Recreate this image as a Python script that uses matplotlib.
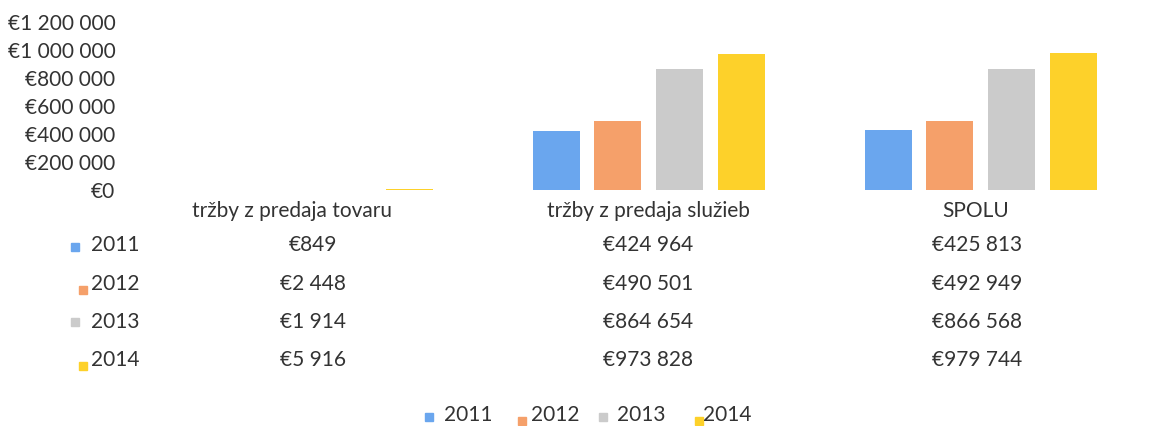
import matplotlib.pyplot as plt
import numpy as np

plt.rcParams['font.family'] = ['Lato', 'DejaVu Sans']

# --- DATA ---
categories = ['tržby z predaja tovaru', 'tržby z predaja služieb', 'SPOLU']
years = ['2011', '2012', '2013', '2014']
values = {
    '2011': [849, 424964, 425813],
    '2012': [2448, 490501, 492949],
    '2013': [1914, 864654, 866568],
    '2014': [5916, 973828, 979744],
}
yticks = [0, 200000, 400000, 600000, 800000, 1000000, 1200000]
colors = ['#6aa6ee', '#f5a06a', '#cbcbcb', '#fdd12a']
text_color = '#333333'
fs = 15

W, H = 1158, 426


def eur(v):
    return '€' + f'{v:,}'.replace(',', ' ')


def fx(px):
    return px / W


def fy(py):
    return 1 - py / H


fig = plt.figure(figsize=(W / 100, H / 100), dpi=100)
ax = fig.add_axes([fx(125), fy(190), fx(1150) - fx(125), fy(22) - fy(190)])

x = np.arange(len(categories))
step = 0.186
width = 0.142
for i, yr in enumerate(years):
    ax.bar(x + (i - 1.5) * step, values[yr], width, color=colors[i], zorder=2)

ax.set_xlim(-0.578, 2.51)
ax.set_ylim(0, 1200000)
ax.set_yticks(yticks)
ax.set_yticklabels([eur(v) for v in yticks], fontsize=fs, color=text_color)
ax.tick_params(axis='y', length=0, pad=7)
ax.set_xticks([])
for s in ax.spines.values():
    s.set_visible(False)

# --- data table below the plot ---
head_x = [292, 648, 976]
col_x = [313, 648, 977]
row_y = [245, 284, 322, 360]
for cx, cat in zip(head_x, categories):
    fig.text(fx(cx), fy(211), cat, ha='center', va='center', fontsize=fs, color=text_color)
marker_x = [71, 79, 71, 79]
marker_y = [247, 290, 322, 366]
for i, yr in enumerate(years):
    fig.text(fx(91), fy(row_y[i]), yr, ha='left', va='center', fontsize=fs, color=text_color)
    fig.patches.append(plt.Rectangle((fx(marker_x[i]), fy(marker_y[i] + 4)), fx(8), 8 / H,
                                     transform=fig.transFigure, color=colors[i]))
    for cx, v in zip(col_x, values[yr]):
        fig.text(fx(cx), fy(row_y[i]), eur(v), ha='center', va='center', fontsize=fs, color=text_color)

# --- legend at bottom ---
leg_marker_x = [425, 518, 599, 695]
leg_marker_y = [417, 421, 417, 421]
leg_text_x = [444, 531, 617, 703]
for i, yr in enumerate(years):
    fig.patches.append(plt.Rectangle((fx(leg_marker_x[i]), fy(leg_marker_y[i] + 4)), fx(8), 8 / H,
                                     transform=fig.transFigure, color=colors[i]))
    fig.text(fx(leg_text_x[i]), fy(415), yr, ha='left', va='center', fontsize=fs, color=text_color)

fig.savefig('out.png', dpi=100, facecolor='white')
